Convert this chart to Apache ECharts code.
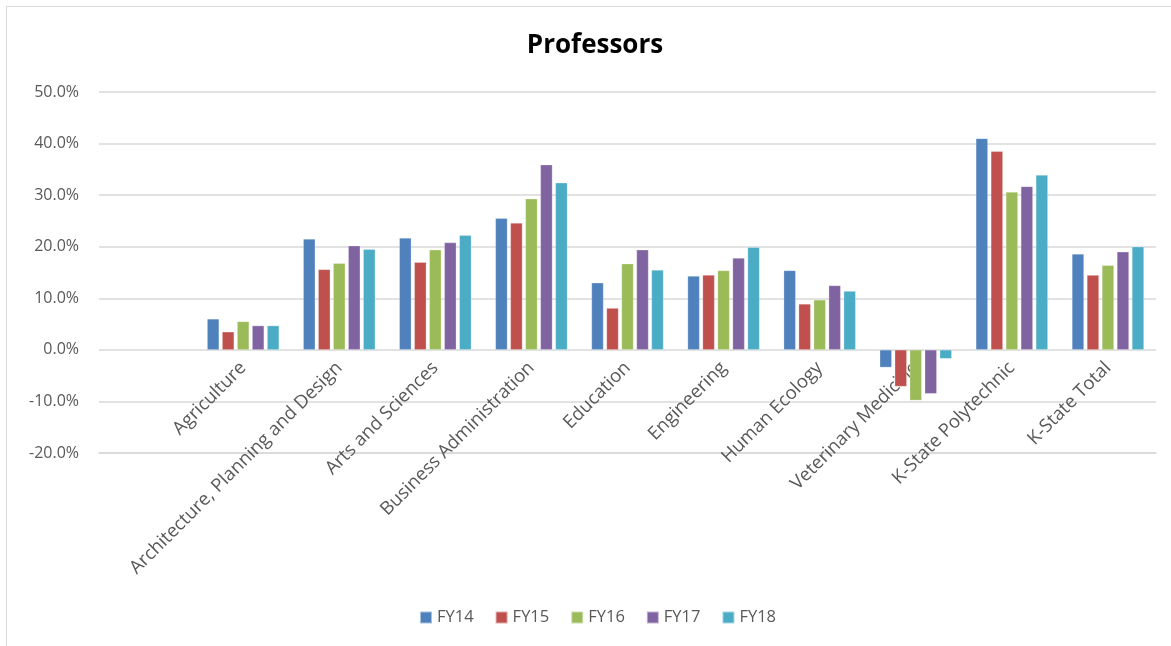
<!DOCTYPE html>
<html>
<head>
<meta charset="utf-8">
<script src="https://cdn.jsdelivr.net/npm/echarts@6/dist/echarts.min.js"></script>
<style>
  html, body { margin: 0; padding: 0; background: #fff; }
  #wrap { position: relative; width: 1171px; height: 646px; }
  #frame { position: absolute; left: 6px; top: 6px; width: 1165px; height: 640px; border-left: 1px solid #D9D9D9; border-top: 1px solid #D9D9D9; box-sizing: border-box; }
  #chart { position: absolute; left: 0; top: 0; width: 1171px; height: 646px; }
</style>
</head>
<body>
<div id="wrap">
  <div id="frame"></div>
  <div id="chart"></div>
</div>
<script>
const categories = ["", "Agriculture", "Architecture, Planning and Design", "Arts and Sciences", "Business Administration", "Education", "Engineering", "Human Ecology", "Veterinary Medicine", "K-State Polytechnic", "K-State Total"];
const seriesNames = ["FY14", "FY15", "FY16", "FY17", "FY18"];
const fy14 = [null, 6.0, 21.5, 21.7, 25.5, 13.0, 14.3, 15.4, -3.4, 41.0, 18.6];
const fy15 = [null, 3.5, 15.6, 17.0, 24.6, 8.1, 14.5, 8.9, -7.1, 38.5, 14.5];
const fy16 = [null, 5.5, 16.8, 19.4, 29.3, 16.7, 15.4, 9.7, -9.8, 30.6, 16.4];
const fy17 = [null, 4.7, 20.2, 20.8, 35.9, 19.4, 17.8, 12.5, -8.5, 31.7, 19.0];
const fy18 = [null, 4.7, 19.5, 22.2, 32.4, 15.5, 19.9, 11.4, -1.7, 33.9, 20.0];
const colors = ["#4F81BD", "#C0504D", "#9BBB59", "#8064A2", "#4BACC6"];
const values = [fy14, fy15, fy16, fy17, fy18];

const font = "'Open Sans', 'Noto Sans', sans-serif";
const chart = echarts.init(document.getElementById('chart'));
chart.setOption({
  animation: false,
  color: colors,
  title: {
    text: 'Professors',
    left: 590,
    top: 28,
    textAlign: 'center',
    textStyle: { fontFamily: font, fontSize: 26, fontWeight: 'bold', color: '#000' }
  },
  legend: {
    left: 414,
    top: 604,
    itemWidth: 12,
    itemHeight: 12,
    itemGap: 21,
    icon: 'rect',
    textStyle: { fontFamily: font, fontSize: 16.5, color: '#595959' },
    data: seriesNames
  },
  grid: { left: 99, right: 15, top: 92, bottom: 193, containLabel: false },
  xAxis: {
    type: 'category',
    data: categories,
    axisLine: { onZero: false, lineStyle: { color: '#D9D9D9', width: 1.5 } },
    axisTick: { show: false },
    axisLabel: { interval: 0, rotate: 45, margin: -88, fontFamily: font, fontSize: 18.5, color: '#595959' }
  },
  yAxis: {
    type: 'value',
    min: -20,
    max: 50,
    interval: 10,
    axisLine: { show: false },
    axisTick: { show: false },
    splitLine: { lineStyle: { color: '#D9D9D9', width: 1.5 } },
    axisLabel: {
      margin: 20,
      fontFamily: font, fontSize: 16, color: '#595959',
      formatter: v => v.toFixed(1) + '%'
    }
  },
  series: seriesNames.map((name, i) => ({
    name: name,
    type: 'bar',
    data: values[i],
    barWidth: 12,
    barGap: '25%',
    itemStyle: { color: colors[i], borderColor: 'rgba(255,255,255,0.5)', borderWidth: 0.5 }
  }))
});
</script>
</body>
</html>
